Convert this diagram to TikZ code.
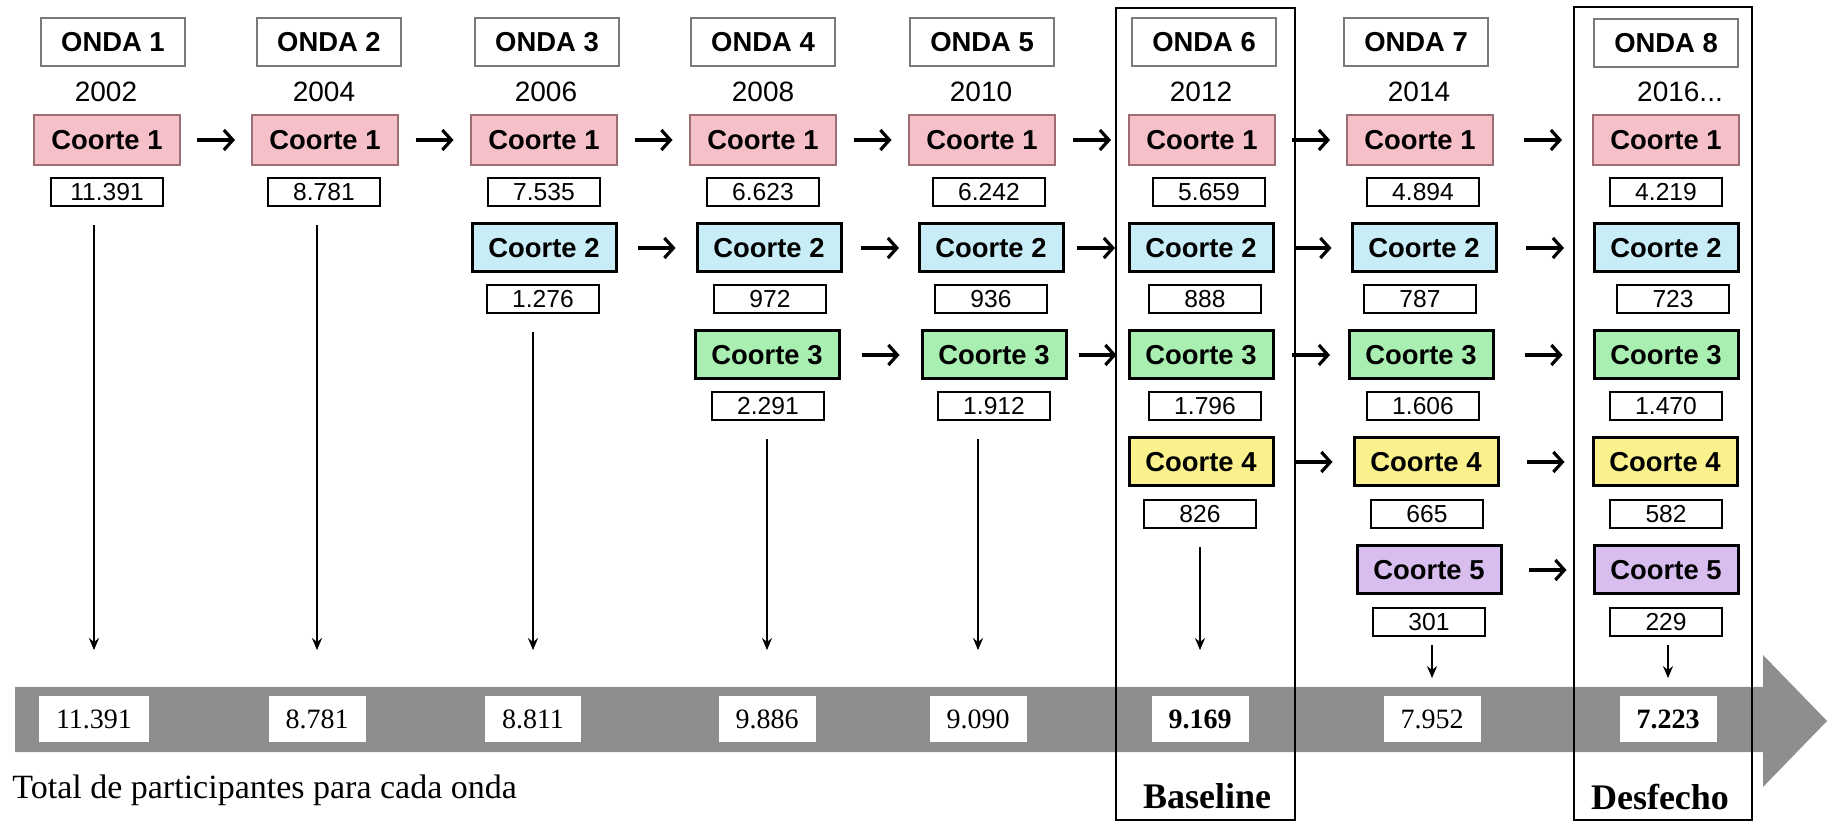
\documentclass[tikz,border=0pt]{standalone}
\usepackage{fontspec}
\setmainfont{Liberation Serif}
\setsansfont{Liberation Sans}
\usetikzlibrary{arrows.meta, calc}
\definecolor{cohpink}{HTML}{F5C0C8}
\definecolor{cohblue}{HTML}{C8EDF7}
\definecolor{cohgreen}{HTML}{A9EFB2}
\definecolor{cohyellow}{HTML}{FAF18C}
\definecolor{cohpurple}{HTML}{D8BDEF}
\definecolor{pinkline}{HTML}{9C6E74}
\definecolor{bandgray}{HTML}{8E8E8E}
\definecolor{ondaline}{HTML}{7A7A7A}

% arrow centred in the gap between two cohort boxes
\newcommand\hop[2]{\draw[flow] ($(#1.east)!0.5!(#2.west)+(-9.5pt,0)$) -- ($(#1.east)!0.5!(#2.west)+(9.5pt,0)$);}

\begin{document}
\begin{tikzpicture}[x=0.5pt, y=-0.5pt,
    onda/.style={draw=ondaline, line width=0.7pt, fill=white, minimum width=72pt, minimum height=24pt, inner sep=0pt, font=\sffamily\bfseries\fontsize{13.7}{16}\selectfont},
    yr/.style={inner sep=0pt, font=\sffamily\fontsize{14}{16}\selectfont},
    coh/.style={draw=black, line width=1.5pt, minimum width=72pt, minimum height=24pt, inner sep=0pt, font=\sffamily\bfseries\fontsize{13.7}{16}\selectfont},
    c1/.style={fill=cohpink, draw=pinkline, line width=0.8pt, minimum width=73pt, minimum height=25pt},
    c2/.style={fill=cohblue},
    c3/.style={fill=cohgreen},
    c4/.style={fill=cohyellow},
    c5/.style={fill=cohpurple},
    num/.style={draw, line width=1.4pt, fill=white, minimum width=56pt, minimum height=14pt, inner sep=0pt, font=\sffamily\fontsize{12.3}{14}\selectfont},
    tot/.style={fill=white, inner xsep=8.5pt, inner ysep=0pt, minimum height=22.5pt, font=\fontsize{14}{16}\selectfont},
    totb/.style={tot, font=\bfseries\fontsize{14}{16}\selectfont},
    flow/.style={line width=1.6pt, -{Straight Barb[length=4.5pt, width=10pt]}},
    drop/.style={line width=0.75pt, -{Stealth[length=6pt, width=5pt]}},
    band/.style={fill=bandgray},
    wavebox/.style={draw=black, line width=1pt},
    tag/.style={font=\bfseries\fontsize{18}{20}\selectfont, inner sep=0pt}]
  \useasboundingbox (0,0) rectangle (1841,822);

  % The time line with the totals.
  \fill[band] (15,687) -- (1763,687) -- (1763,655) -- (1827,721) -- (1763,787) -- (1763,752) -- (15,752) -- cycle;
  \node[font=\fontsize{17}{20}\selectfont, anchor=west, inner sep=0pt] (foot) at (12,790) {Total de participantes para cada onda};

  % Baseline and outcome waves.
  \draw[wavebox] (1116,8) rectangle (1295,820);
  \draw[wavebox] (1574,7) rectangle (1752,820);
  \node[tag] (base) at (1207,796) {Baseline};
  \node[tag] (outc) at (1660,797) {Desfecho};

  % Wave headers and years.
  \foreach \w/\x/\yx/\yr in {1/113/106/2002, 2/329/324/2004, 3/547/546/2006, 4/763/763/2008,
      5/982/981/2010, 6/1204/1201/2012, 7/1416/1419/2014} {
    \node[onda] (o\w) at (\x,42) {ONDA \w};
    \node[yr] (y\w) at (\yx,92) {\yr};
  }
  \node[onda] (o8) at (1666,43) {ONDA 8};
  \node[yr] (y8) at (1680,92) {2016...};

  % Cohorts, one row each.
  \foreach \w/\x/\nx/\v in {1/107/107/11.391, 2/325/324/8.781, 3/544/544/7.535, 4/763/763/6.623,
      5/982/989/6.242, 6/1202/1209/5.659, 7/1420/1423/4.894, 8/1666/1666/4.219} {
    \node[coh, c1] (k1\w) at (\x,140) {Coorte 1};
    \node[num] (n1\w) at (\nx,192) {\v};
  }
  \foreach \w/\x/\nx/\v in {3/544/543/1.276, 4/769/770/972, 5/991/991/936, 6/1201/1205/888,
      7/1424/1420/787, 8/1666/1673/723} {
    \node[coh, c2] (k2\w) at (\x,248) {Coorte 2};
    \node[num] (n2\w) at (\nx,299) {\v};
  }
  \foreach \w/\x/\nx/\v in {4/767/768/2.291, 5/994/994/1.912, 6/1201/1205/1.796, 7/1421/1423/1.606,
      8/1666/1666/1.470} {
    \node[coh, c3] (k3\w) at (\x,355) {Coorte 3};
    \node[num] (n3\w) at (\nx,406) {\v};
  }
  \foreach \w/\x/\nx/\v in {6/1201/1200/826, 7/1426/1427/665, 8/1665/1666/582} {
    \node[coh, c4] (k4\w) at (\x,462) {Coorte 4};
    \node[num] (n4\w) at (\nx,514) {\v};
  }
  \foreach \w/\x/\nx/\v in {7/1429/1429/301, 8/1666/1666/229} {
    \node[coh, c5] (k5\w) at (\x,570) {Coorte 5};
    \node[num] (n5\w) at (\nx,622) {\v};
  }

  % Follow-up from one wave to the next.
  \foreach \a/\b in {1/2, 2/3, 3/4, 4/5, 5/6, 6/7, 7/8}
    \hop{k1\a}{k1\b};
  \foreach \a/\b in {3/4, 4/5, 5/6, 6/7, 7/8}
    \hop{k2\a}{k2\b};
  \foreach \a/\b in {4/5, 5/6, 6/7, 7/8}
    \hop{k3\a}{k3\b};
  \hop{k46}{k47};
  \hop{k47}{k48};
  \hop{k57}{k58};

  % Totals per wave.
  \foreach \w/\x/\v in {1/94/11.391, 2/317/8.781, 3/533/8.811, 4/767/9.886, 5/978/9.090, 7/1432/7.952}
    \node[tot] (t\w) at (\x,719) {\v};
  \node[totb] (t6) at (1200,719) {9.169};
  \node[totb] (t8) at (1668,719) {7.223};

  \foreach \va/\tb in {n11/t1, n12/t2, n23/t3, n34/t4, n35/t5, n46/t6}
    \draw[drop] ($(\va.south -| \tb.north)+(0,-9pt)$) -- ($(\tb.north)+(0,23pt)$);
  \foreach \va/\tb in {n57/t7, n58/t8}
    \draw[drop] ($(\va.south -| \tb.north)+(0,-4pt)$) -- ($(\tb.north)+(0,9pt)$);
\end{tikzpicture}
\end{document}
